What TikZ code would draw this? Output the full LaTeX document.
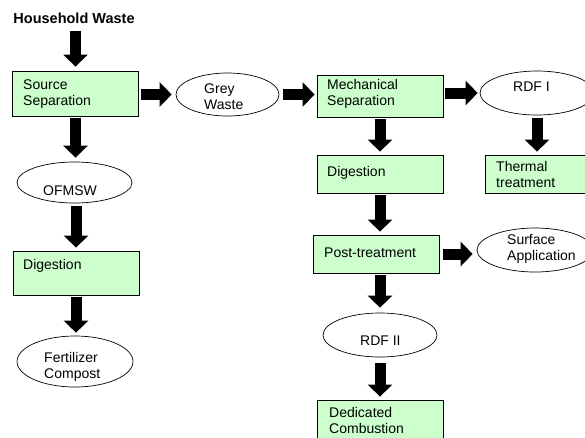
\documentclass[tikz,border=0pt]{standalone}
\usepackage{fontspec}
\setmainfont{Liberation Sans}
\usetikzlibrary{shapes.geometric,arrows.meta}
\definecolor{boxgreen}{HTML}{CCFFCC}
\begin{document}
\begin{tikzpicture}[x=1pt,y=-1pt,
  proc/.style={draw=black,line width=0.8pt,fill=boxgreen,inner sep=0,minimum width=126pt},
  term/.style={ellipse,draw=black,line width=0.7pt,fill=white,inner sep=0},
  lbl/.style={anchor=west,align=left,inner sep=0,font=\fontsize{14}{16}\selectfont},
  blk/.style={line width=11pt,-{Triangle[width=24pt,length=12pt]},shorten <=2pt,shorten >=3pt}]
\fill[white] (0,0) rectangle (585,437);
\useasboundingbox (0,0) rectangle (585,437);
% nodes
\node[inner sep=0,font=\bfseries\fontsize{14.5}{16}\selectfont] (hw) at (74,18) {Household Waste};
\node[proc,minimum height=45pt] (ss) at (75.5,93.5) {};
\node[lbl] at (23,94) {Source\\Separation};
\node[term,minimum width=103pt,minimum height=43pt] (gw) at (227.5,94.5) {};
\node[lbl] at (204,96.5) {Grey\\Waste};
\node[term,minimum width=115pt,minimum height=41pt] (ofmsw) at (74.5,182.5) {};
\node[lbl] at (43,191) {OFMSW};
\node[proc,minimum height=44pt] (digl) at (76,273) {};
\node[lbl] at (23,266) {Digestion};
\node[term,minimum width=116pt,minimum height=51pt] (fc) at (75,361.5) {};
\node[lbl] at (44,366.5) {Fertilizer\\Compost};
\node[proc,minimum height=42pt] (ms) at (380,96) {};
\node[lbl] at (327,94) {Mechanical\\Separation};
\node[term,minimum width=114pt,minimum height=44pt] (rdfa) at (537,93) {};
\node[lbl] at (513,87) {RDF I};
\node[proc,minimum width=110pt,minimum height=38pt] (th) at (540,174) {};
\node[lbl] at (496,174) {Thermal\\treatment};
\node[proc,minimum height=38pt] (digr) at (380,174) {};
\node[lbl] at (327,173) {Digestion};
\node[proc,minimum height=38pt] (post) at (376.3,254) {};
\node[lbl] at (324,253) {Post-treatment};
\node[term,minimum width=116pt,minimum height=44pt] (sa) at (535,250) {};
\node[lbl] at (507,248.5) {Surface\\Application};
\node[term,minimum width=114pt,minimum height=44pt] (rdfb) at (380,335) {};
\node[lbl] at (360,341) {RDF II};
\node[proc,minimum height=44pt] (ded) at (380.5,422) {};
\node[lbl] at (329,420.5) {Dedicated\\Combustion};
% arrows
\draw[blk,shorten <=7pt,shorten >=4pt] (ss.north |- hw.south) -- (ss.north);
\draw[blk,shorten >=4pt] (ss.south) -- (ss.south |- ofmsw.north);
\draw[blk,shorten <=3pt] (digl.north |- ofmsw.south) -- (digl.north);
\draw[blk] (digl.south) -- (digl.south |- fc.north);
\draw[blk,shorten >=4pt] (ss.east |- gw.west) -- (gw.west);
\draw[blk,shorten <=4pt,shorten >=2pt] (gw.east) -- (gw.east -| ms.west);
\draw[blk,shorten >=2pt] (ms.east |- rdfa.west) -- (rdfa.west);
\draw[blk,shorten <=3pt] (rdfa.south) -- (rdfa.south |- th.north);
\draw[blk,shorten <=1.5pt] (ms.south) -- (ms.south |- digr.north);
\draw[blk] (digr.south) -- (digr.south |- post.north);
\draw[blk,shorten <=3pt,shorten >=4pt] (post.east) -- (post.east -| sa.west);
\draw[blk,shorten >=5pt] (rdfb.north |- post.south) -- (rdfb.north);
\draw[blk,shorten <=6pt] (rdfb.south) -- (rdfb.south |- ded.north);
\end{tikzpicture}
\end{document}
